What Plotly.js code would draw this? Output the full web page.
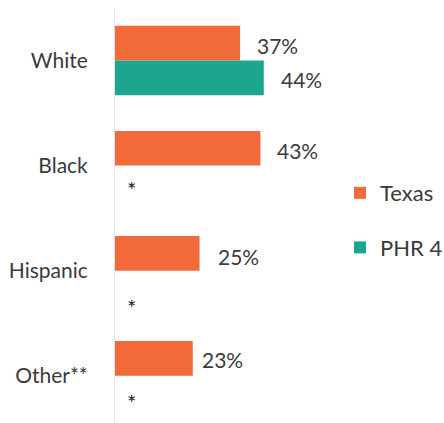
<!DOCTYPE html>
<html>
<head>
<meta charset="utf-8">
<script src="https://cdn.plot.ly/plotly-3.0.1.min.js"></script>
<style>html,body{margin:0;padding:0;background:#fff;}#chart{width:444px;height:423px;}</style>
</head>
<body>
<div id="chart"></div>
<script>
// Data
const categories = ["White", "Black", "Hispanic", "Other**"];
const texasValues = [37, 43, 25, 23];
const phrValues = [44, null, null, null];   // null = suppressed (*)
const texasLabels = ["37%", "43%", "25%", "23%"];
const phrLabels = ["44%", "*", "*", "*"];
const seriesNames = ["Texas", "PHR 4"];

// Styles
const ORANGE = "#F26A3A";
const TEAL = "#1BA68D";
const TEXT = "#3a3a3a";
const FONT = "Lato, 'Open Sans', sans-serif";
const HALF = 17;              // half bar height in px (label offset)
const texasXShift = [15, 15, 16, 7];
const texasYShift = [-2, -2, -3, -1];
const starYShift = [-24, -37, -27];

const traces = [
  {type: "bar", orientation: "h", name: seriesNames[0], y: categories, x: texasValues,
   marker: {color: ORANGE}, hoverinfo: "skip", legendgroup: "a"},
  {type: "bar", orientation: "h", name: seriesNames[1], y: categories, x: phrValues,
   marker: {color: TEAL}, hoverinfo: "skip", legendgroup: "b"}
];

const annotations = [];
categories.forEach((c, i) => {
  annotations.push({x: texasValues[i], y: c, xref: "x", yref: "y", text: texasLabels[i],
    showarrow: false, xanchor: "left", yanchor: "middle", xshift: texasXShift[i], yshift: HALF + texasYShift[i],
    font: {family: FONT, size: 21, color: TEXT}});
  if (phrValues[i] !== null) {
    annotations.push({x: phrValues[i], y: c, xref: "x", yref: "y", text: phrLabels[i],
      showarrow: false, xanchor: "left", yanchor: "middle", xshift: 15, yshift: -HALF - 2,
      font: {family: FONT, size: 21, color: TEXT}});
  } else {
    annotations.push({x: 0, y: c, xref: "x", yref: "y", text: phrLabels[i],
      showarrow: false, xanchor: "center", yanchor: "middle", xshift: 16, yshift: starYShift[i - 1],
      font: {family: FONT, size: 22, color: "#222"}});
  }
});

const layout = {
  width: 444, height: 423,
  margin: {l: 115, r: 0, t: 8, b: 0, autoexpand: false},
  paper_bgcolor: "#fff", plot_bgcolor: "#fff",
  barmode: "group", bargap: 0.34, bargroupgap: 0,
  font: {family: FONT, color: TEXT},
  xaxis: {range: [0, 97.3], showgrid: false, zeroline: false, showticklabels: false, ticks: "", fixedrange: true},
  yaxis: {type: "category", categoryorder: "array", categoryarray: categories,
    range: [3.45, -0.5], showgrid: false, zeroline: false, ticks: "",
    showline: true, linecolor: "#e2e2e2", linewidth: 1,
    ticklabelstandoff: 22, tickfont: {family: FONT, size: 21, color: TEXT}},
  showlegend: true,
  legend: {xref: "container", yref: "container", x: 340 / 444, y: 1 - 172 / 423,
    xanchor: "left", yanchor: "top", traceorder: "grouped", tracegroupgap: 23,
    font: {family: FONT, size: 22, color: TEXT}, bgcolor: "rgba(0,0,0,0)"},
  annotations: annotations
};

Plotly.newPlot("chart", traces, layout, {staticPlot: true, displayModeBar: false});
</script>
</body>
</html>
